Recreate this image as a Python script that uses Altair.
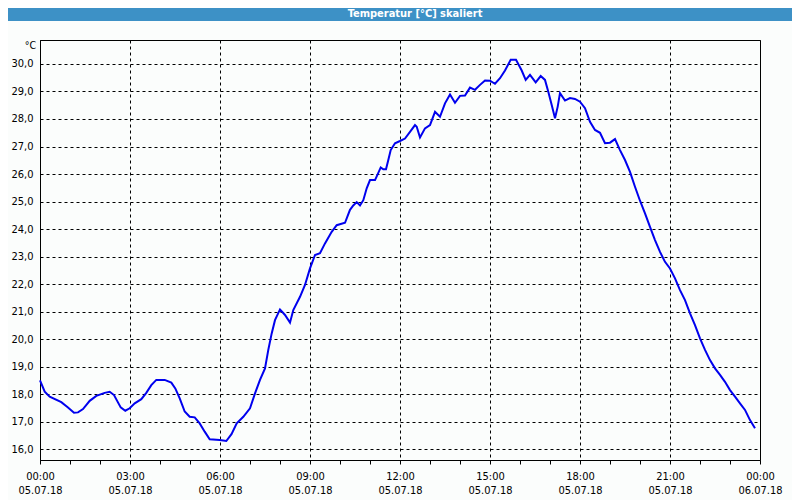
import json
import altair as alt
import pandas as pd

# ---- data ----
hours = [0.0, 0.157, 0.323, 0.71, 0.933, 1.133, 1.267, 1.433, 1.657, 1.877, 2.157, 2.323, 2.467,
         2.69, 2.843, 2.99, 3.157, 3.377, 3.543, 3.71, 3.877, 4.157, 4.377, 4.51, 4.657, 4.823,
         4.99, 5.157, 5.323, 5.49, 5.657, 5.99, 6.21, 6.383, 6.557, 6.777, 7.0, 7.167, 7.333, 7.5,
         7.61, 7.723, 7.833, 8.0, 8.167, 8.333, 8.443, 8.667, 8.833, 9.0, 9.167, 9.333, 9.5,
         9.723, 9.89, 10.167, 10.333, 10.443, 10.557, 10.667, 10.777, 10.89, 11.0, 11.167, 11.243,
         11.357, 11.443, 11.533, 11.61, 11.69, 11.833, 12.0, 12.167, 12.333, 12.5, 12.557, 12.667,
         12.833, 13.0, 13.167, 13.333, 13.5, 13.667, 13.833, 14.0, 14.167, 14.333, 14.5, 14.667,
         14.833, 15.0, 15.167, 15.333, 15.5, 15.69, 15.867, 16.057, 16.19, 16.333, 16.523, 16.69,
         16.833, 16.943, 17.057, 17.167, 17.257, 17.333, 17.5, 17.667, 17.833, 18.0, 18.167,
         18.333, 18.5, 18.667, 18.833, 19.0, 19.167, 19.333, 19.5, 19.667, 19.833, 20.0, 20.167,
         20.333, 20.5, 20.667, 20.833, 21.0, 21.167, 21.333, 21.5, 21.667, 21.833, 22.0, 22.167,
         22.333, 22.5, 22.667, 22.833, 23.0, 23.167, 23.333, 23.5, 23.667, 23.833]
temps = [18.5, 18.09, 17.91, 17.71, 17.52, 17.33, 17.34, 17.46, 17.76, 17.94, 18.05, 18.09, 17.97,
         17.52, 17.40, 17.49, 17.67, 17.82, 18.05, 18.33, 18.52, 18.52, 18.42, 18.21, 17.85, 17.37,
         17.18, 17.16, 16.94, 16.64, 16.36, 16.34, 16.30, 16.55, 16.94, 17.18, 17.49, 18.03, 18.52,
         18.94, 19.61, 20.21, 20.69, 21.08, 20.88, 20.60, 21.06, 21.54, 21.97, 22.57, 23.06, 23.12,
         23.48, 23.90, 24.14, 24.23, 24.70, 24.86, 24.98, 24.86, 25.05, 25.48, 25.78, 25.78, 25.96,
         26.24, 26.17, 26.17, 26.51, 26.87, 27.12, 27.20, 27.29, 27.53, 27.78, 27.72, 27.33, 27.66,
         27.78, 28.26, 28.08, 28.57, 28.89, 28.59, 28.84, 28.85, 29.14, 29.06, 29.24, 29.40, 29.39,
         29.28, 29.48, 29.76, 30.15, 30.15, 29.76, 29.42, 29.60, 29.33, 29.56, 29.42, 28.99, 28.51,
         28.03, 28.45, 28.94, 28.67, 28.76, 28.73, 28.63, 28.39, 27.90, 27.60, 27.50, 27.12, 27.14,
         27.27, 26.87, 26.51, 26.08, 25.54, 25.03, 24.57, 24.08, 23.60, 23.17, 22.81, 22.57, 22.21,
         21.78, 21.42, 20.94, 20.51, 20.03, 19.61, 19.24, 18.94, 18.70, 18.45, 18.15, 17.91, 17.67,
         17.43, 17.06, 16.76]

x_tick_hours = list(range(0, 25))
x_time_labels = ["00:00", "03:00", "06:00", "09:00", "12:00", "15:00", "18:00", "21:00", "00:00"]
x_date_labels = ["05.07.18", "05.07.18", "05.07.18", "05.07.18", "05.07.18",
                 "05.07.18", "05.07.18", "05.07.18", "06.07.18"]
y_ticks = list(range(16, 31))
title_text = "Temperatur [°C] skaliert"
unit_text = "°C"

FONT = "Tahoma, 'DejaVu Sans Condensed', 'Liberation Sans', sans-serif"
BAR = "#3D91C6"
BG = "#FBFDFC"

df = pd.DataFrame({"h": hours, "t": temps})

x_label_expr = (
    f"datum.value % 3 === 0 ? [{json.dumps(x_time_labels)}[datum.value / 3], "
    f"{json.dumps(x_date_labels)}[datum.value / 3]] : ''"
)
major = {"condition": {"test": "datum.value % 3 === 0", "value": 1}, "value": 0}

line = alt.Chart(df).mark_line(color="#0000EE", strokeWidth=2).encode(
    x=alt.X("h:Q", scale=alt.Scale(domain=[0, 24], nice=False, zero=False),
            axis=alt.Axis(values=x_tick_hours, title=None, labelExpr=x_label_expr,
                          grid=True, gridColor="black", gridDash=[3, 3], gridOpacity=major,
                          tickSize=4, tickColor="black", domainColor="black",
                          labelFont=FONT, labelFontSize=11, labelColor="black",
                          labelPadding=6, labelLineHeight=14.5, labelBaseline="top",
                          labelOverlap=False, labelFlush=False)),
    y=alt.Y("t:Q", scale=alt.Scale(domain=[15.61, 30.87], nice=False, zero=False),
            axis=alt.Axis(values=y_ticks, title=None,
                          labelExpr="replace(format(datum.value, '.1f'), '.', ',')",
                          grid=True, gridColor="black", gridDash=[3, 3],
                          ticks=False, tickSize=0, domainColor="black",
                          labelFont=FONT, labelFontSize=11, labelColor="black",
                          labelPadding=7, labelOverlap=False, labelFlush=False)),
)

title_df = pd.DataFrame({"title": [title_text]})
bar = alt.Chart(title_df).mark_rect(color=BAR).encode(
    x=alt.value(-32), x2=alt.value(752), y=alt.value(-32), y2=alt.value(-19)
)
title = alt.Chart(title_df).mark_text(
    color="white", font=FONT, fontSize=11, fontWeight="bold", baseline="middle", align="center"
).encode(x=alt.value(375), y=alt.value(-26.5), text="title:N")

unit = alt.Chart(pd.DataFrame({"u": [unit_text]})).mark_text(
    color="black", font=FONT, fontSize=10.5, baseline="middle", align="right"
).encode(x=alt.value(-4), y=alt.value(6), text="u:N")

chart = alt.layer(line, bar, title, unit).properties(
    width=720, height=420,
    autosize=alt.AutoSizeParams(type="none"),
    padding={"left": 32, "top": 32, "right": 32, "bottom": 40},
    background=BG,
).configure_view(stroke="black", strokeWidth=1, fill=BG)

chart.save("out.html", embed_options={"renderer": "svg", "actions": False})
